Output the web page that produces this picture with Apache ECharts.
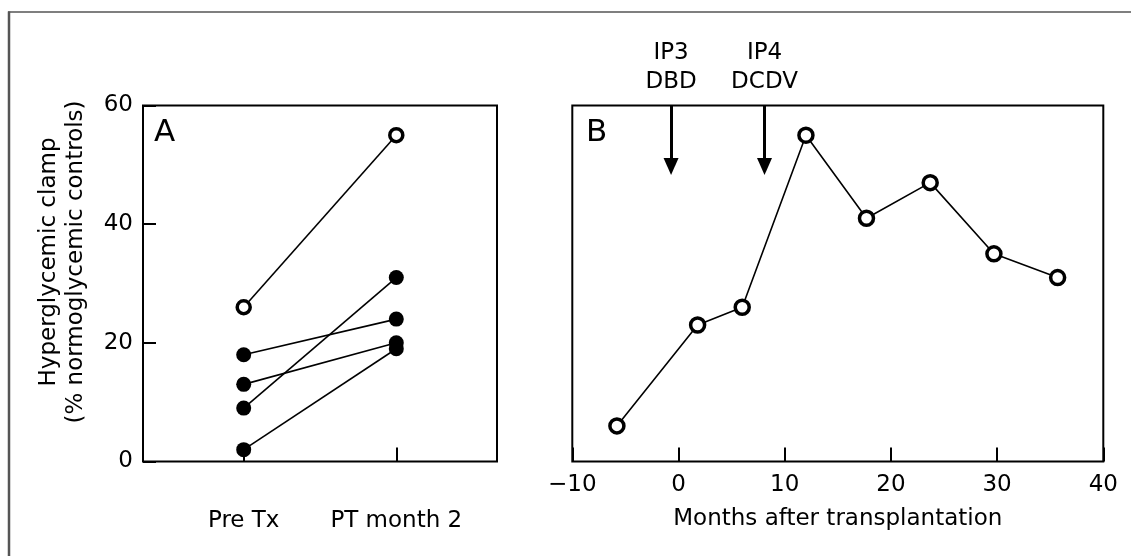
<!DOCTYPE html>
<html><head><meta charset="utf-8">
<script src="https://cdn.jsdelivr.net/npm/echarts@6/dist/echarts.min.js"></script>
<style>html,body{margin:0;padding:0;background:#fff}#c{width:1131px;height:556px}</style>
</head><body><div id="c"></div>
<script>
// ---- data ----
const categories = ['Pre Tx', 'PT month 2'];
const preTx = [26, 18, 13, 9, 2];
const ptMonth2 = [55, 24, 20, 31, 19];
const openMarker = [true, false, false, false, false];
const months = [-5.8, 1.8, 6, 12, 17.7, 23.7, 29.7, 35.7];
const clampB = [6, 23, 26, 55, 41, 47, 35, 31];
const arrowMonths = [-0.7, 8.1];
const arrowLabels = ['IP3\nDBD', 'IP4\nDCDV'];
const arrowFrom = [60, 60];
const arrowTo = [49.7, 49.7];
const yAxisTitle = ['Hyperglycemic clamp', '(% normoglycemic controls)'];
const xAxisTitleB = 'Months after transplantation';
const panelLetters = ['A', 'B'];

const FONT = 'DejaVu Sans';
const FS = 23;
const chart = echarts.init(document.getElementById('c'), null, {renderer: 'canvas'});

const seriesA = preTx.map((v, i) => ({
  type: 'line', xAxisIndex: 0, yAxisIndex: 0, animation: false, silent: true,
  data: [[0, v], [1, ptMonth2[i]]],
  symbol: 'circle',
  symbolSize: openMarker[i] ? 13 : 15,
  lineStyle: {color: '#000', width: 1.6},
  itemStyle: openMarker[i]
    ? {color: '#fff', borderColor: '#000', borderWidth: 3.5}
    : {color: '#000', borderColor: '#000', borderWidth: 0},
  z: openMarker[i] ? 3 : 2
}));

const seriesB = {
  type: 'line', xAxisIndex: 1, yAxisIndex: 1, animation: false, silent: true, clip: false,
  data: months.map((m, i) => [m, clampB[i]]),
  symbol: 'circle', symbolSize: 14,
  lineStyle: {color: '#000', width: 1.6},
  itemStyle: {color: '#fff', borderColor: '#000', borderWidth: 3.5},
  z: 3,
  markLine: {
    silent: true, animation: false,
    symbol: ['none', 'triangle'], symbolSize: [15, 17],
    lineStyle: {color: '#000', width: 3, type: 'solid'},
    itemStyle: {color: '#000'},
    label: {show: true, position: 'start', distance: 9, formatter: '{b}',
      color: '#000', fontFamily: FONT, fontSize: FS, lineHeight: 29},
    emphasis: {disabled: true},
    data: arrowMonths.map((m, i) => [
      {coord: [m, arrowFrom[i]], name: arrowLabels[i]},
      {coord: [m, arrowTo[i]]}
    ])
  }
};

const axisText = {color: '#000', fontFamily: FONT, fontSize: FS};
const noLine = {show: false, onZero: false};

chart.setOption({
  animation: false,
  backgroundColor: '#fff',
  grid: [
    {left: 143, top: 105.5, width: 354, height: 356, show: true, borderColor: '#000', borderWidth: 2, backgroundColor: 'transparent'},
    {left: 572.3, top: 105.5, width: 531, height: 356, show: true, borderColor: '#000', borderWidth: 2, backgroundColor: 'transparent'}
  ],
  xAxis: [
    {type: 'value', gridIndex: 0, min: -0.66, max: 1.66,
      axisLine: noLine, splitLine: {show: false},
      axisTick: {show: true, inside: true, length: 14, customValues: [0, 1], lineStyle: {color: '#000', width: 2}},
      axisLabel: Object.assign({show: true, margin: 48, customValues: [0, 1], formatter: v => categories[Math.round(v)]}, axisText)
    },
    {type: 'value', gridIndex: 1, min: -10, max: 40, interval: 10,
      axisLine: noLine, splitLine: {show: false},
      axisTick: {show: true, inside: true, length: 14, lineStyle: {color: '#000', width: 2}},
      axisLabel: Object.assign({show: true, margin: 12, formatter: v => String(v).replace('-', '\u2212')}, axisText),
      name: xAxisTitleB, nameLocation: 'middle', nameGap: 46,
      nameTextStyle: axisText
    }
  ],
  yAxis: [
    {type: 'value', gridIndex: 0, min: 0, max: 60, interval: 20,
      axisLine: noLine, splitLine: {show: false},
      axisTick: {show: true, inside: true, length: 13, lineStyle: {color: '#000', width: 2}},
      axisLabel: Object.assign({show: true, margin: 10}, axisText)
    },
    {type: 'value', gridIndex: 1, min: 0, max: 60, interval: 20,
      axisLine: noLine, splitLine: {show: false},
      axisTick: {show: false}, axisLabel: {show: false}
    }
  ],
  graphic: [
    {type: 'line', silent: true, shape: {x1: 8, y1: 12, x2: 1131, y2: 12}, style: {stroke: '#555', lineWidth: 1.5}},
    {type: 'line', silent: true, shape: {x1: 9, y1: 11.5, x2: 9, y2: 556}, style: {stroke: '#555', lineWidth: 2.5}},
    {type: 'text', silent: true, x: 49, y: 262, rotation: Math.PI / 2,
      style: {text: yAxisTitle[0], font: FS + 'px "' + FONT + '"', fill: '#000', align: 'center', verticalAlign: 'middle', textAlign: 'center', textVerticalAlign: 'middle'}},
    {type: 'text', silent: true, x: 76, y: 262, rotation: Math.PI / 2,
      style: {text: yAxisTitle[1], font: FS + 'px "' + FONT + '"', fill: '#000', align: 'center', verticalAlign: 'middle', textAlign: 'center', textVerticalAlign: 'middle'}},
    {type: 'text', silent: true, x: 154, y: 132.5,
      style: {text: panelLetters[0], font: '31px "' + FONT + '"', fill: '#000', align: 'left', verticalAlign: 'middle', textAlign: 'left', textVerticalAlign: 'middle'}},
    {type: 'text', silent: true, x: 586, y: 132.5,
      style: {text: panelLetters[1], font: '31px "' + FONT + '"', fill: '#000', align: 'left', verticalAlign: 'middle', textAlign: 'left', textVerticalAlign: 'middle'}}
  ],
  series: seriesA.concat([seriesB])
});
</script>
</body></html>
